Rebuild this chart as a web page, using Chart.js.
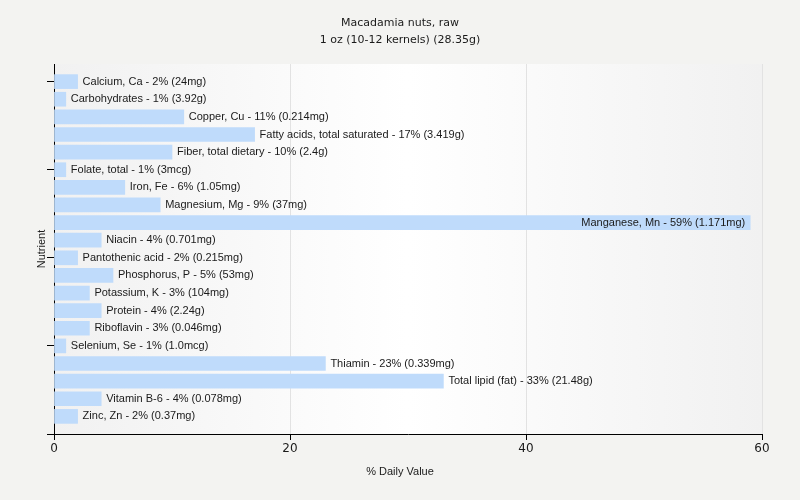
<!DOCTYPE html>
<html>
<head>
<meta charset="utf-8">
<script src="https://cdn.jsdelivr.net/npm/chart.js@4/dist/chart.umd.min.js"></script>
<style>
  html, body { margin: 0; padding: 0; background: #f3f3f1; }
  canvas { display: block; }
</style>
</head>
<body>
<canvas id="chart" width="800" height="500"></canvas>
<script>
// ── Data ─────────────────────────────────────────────────────────────────────
const NUTRIENTS = [
  "Calcium, Ca", "Carbohydrates", "Copper, Cu", "Fatty acids, total saturated",
  "Fiber, total dietary", "Folate, total", "Iron, Fe", "Magnesium, Mg",
  "Manganese, Mn", "Niacin", "Pantothenic acid", "Phosphorus, P",
  "Potassium, K", "Protein", "Riboflavin", "Selenium, Se",
  "Thiamin", "Total lipid (fat)", "Vitamin B-6", "Zinc, Zn",
];
const DAILY_PCT = [2, 1, 11, 17, 10, 1, 6, 9, 59, 4, 2, 5, 3, 4, 3, 1, 23, 33, 4, 2];
const AMOUNTS = [
  "24mg", "3.92g", "0.214mg", "3.419g", "2.4g", "3mcg", "1.05mg", "37mg",
  "1.171mg", "0.701mg", "0.215mg", "53mg", "104mg", "2.24g", "0.046mg", "1.0mcg",
  "0.339mg", "21.48g", "0.078mg", "0.37mg",
];
const X_TICKS = [0, 20, 40, 60];
const Y_TICKS = [0, 5, 10, 15, 20];

const TITLE = ["Macadamia nuts, raw", "1 oz (10-12 kernels) (28.35g)"];
const BAR_COLOR = "#bfdbfb";
const LABEL_FONT = "11px 'Liberation Sans', Arial, sans-serif";

// ── Plugins ──────────────────────────────────────────────────────────────────
const backdrop = {
  id: "backdrop",
  beforeDraw(chart) {
    const { ctx, chartArea: a } = chart;
    ctx.save();
    ctx.fillStyle = "#f3f3f1";
    ctx.fillRect(0, 0, chart.width, chart.height);
    const g = ctx.createLinearGradient(a.left, 0, a.right, 0);
    g.addColorStop(0, "#f1f1f1");
    g.addColorStop(0.5, "#ffffff");
    g.addColorStop(1, "#f1f1f1");
    ctx.fillStyle = g;
    ctx.fillRect(a.left, a.top, a.right - a.left, a.bottom - a.top);
    ctx.restore();
  },
};

const barLabels = {
  id: "barLabels",
  afterDatasetsDraw(chart) {
    const { ctx, chartArea: a } = chart;
    const meta = chart.getDatasetMeta(0);
    ctx.save();
    ctx.font = LABEL_FONT;
    ctx.fillStyle = "#1a1a1a";
    ctx.textBaseline = "middle";
    meta.data.forEach((el, i) => {
      const text = `${NUTRIENTS[i]} - ${DAILY_PCT[i]}% (${AMOUNTS[i]})`;
      const w = ctx.measureText(text).width;
      if (el.x + 5 + w > a.right) {
        ctx.textAlign = "right";
        ctx.fillText(text, el.x - 5, el.y);
      } else {
        ctx.textAlign = "left";
        ctx.fillText(text, el.x + 5, el.y);
      }
    });
    ctx.restore();
  },
};

const titles = {
  id: "titles",
  afterDraw(chart) {
    const { ctx, chartArea: a } = chart;
    ctx.save();
    ctx.fillStyle = "#1a1a1a";
    ctx.textAlign = "center";
    ctx.textBaseline = "middle";
    ctx.font = "11px 'DejaVu Sans', Verdana, sans-serif";
    ctx.fillText(TITLE[0], 400, 23);
    ctx.fillText(TITLE[1], 400, 40);

    ctx.font = LABEL_FONT;
    ctx.fillText("% Daily Value", 400, 472);
    ctx.translate(42, (a.top + a.bottom) / 2);
    ctx.rotate(-Math.PI / 2);
    ctx.fillText("Nutrient", 0, 0);
    ctx.restore();
  },
};

// ── Chart ────────────────────────────────────────────────────────────────────
new Chart(document.getElementById("chart"), {
  type: "bar",
  data: {
    datasets: [{
      data: DAILY_PCT.map((v, i) => ({ x: v, y: i })),
      backgroundColor: BAR_COLOR,
      borderWidth: 0,
      barThickness: 14,
    }],
  },
  options: {
    indexAxis: "y",
    responsive: false,
    animation: false,
    layout: { padding: { top: 64, right: 38, left: 0, bottom: 0 } },
    plugins: {
      legend: { display: false },
      title: { display: false },
      tooltip: { enabled: false },
    },
    scales: {
      x: {
        type: "linear",
        min: 0,
        max: 60,
        afterBuildTicks: (s) => { s.ticks = X_TICKS.map(v => ({ value: v })); },
        afterFit: (s) => { s.height = 66; },
        ticks: {
          color: "#1a1a1a",
          padding: 2,
          font: { family: "'DejaVu Sans', Verdana, sans-serif", size: 12 },
        },
        grid: {
          color: (c) => (c.tick && c.tick.value === 0 ? "rgba(0,0,0,0)" : "#e2e2e2"),
          tickColor: "#000",
          tickLength: 6,
        },
        border: { display: true, color: "#000", width: 1 },
      },
      y: {
        type: "linear",
        min: -1,
        max: 20,
        reverse: true,
        offset: false,
        afterBuildTicks: (s) => { s.ticks = Y_TICKS.map(v => ({ value: v })); },
        afterFit: (s) => { s.width = 54; },
        ticks: { callback: () => "", padding: 0 },
        grid: {
          drawOnChartArea: false,
          offset: false,
          tickColor: "#000",
          tickLength: 7,
        },
        border: { display: true, color: "#000", width: 1 },
      },
    },
  },
  plugins: [backdrop, barLabels, titles],
});
</script>
</body>
</html>
